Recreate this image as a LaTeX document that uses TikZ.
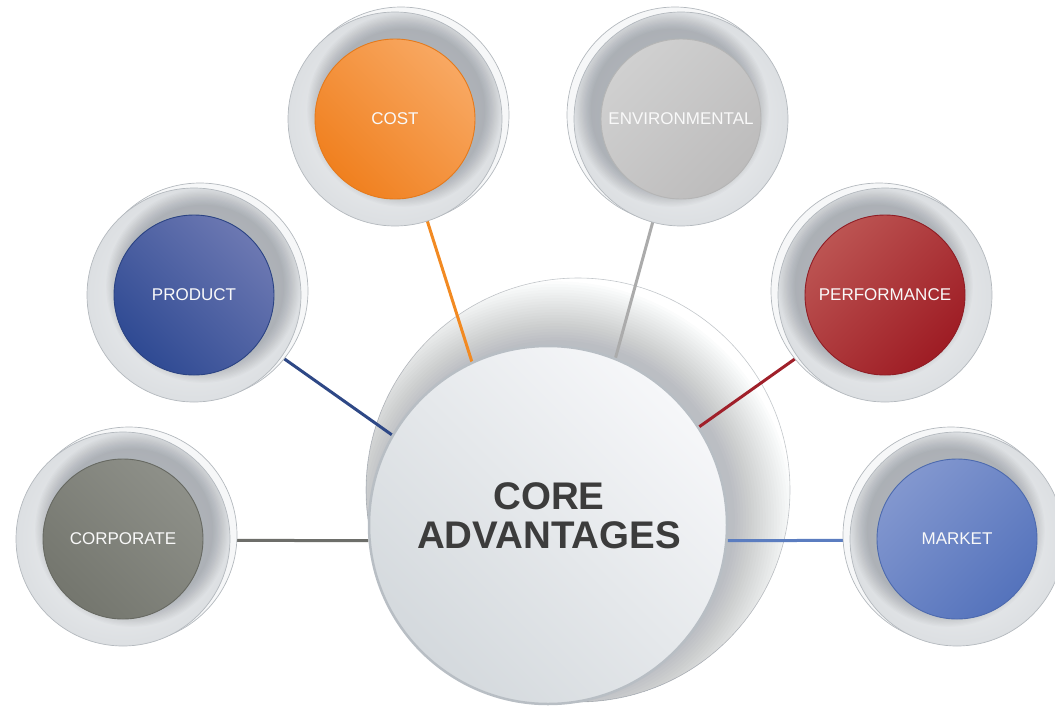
\documentclass[tikz,border=0pt]{standalone}
\usepackage{fontspec}
\setmainfont{Liberation Sans}
\definecolor{ringedge}{HTML}{B4B9BE}
\definecolor{ringout}{HTML}{DCDFE2}
\definecolor{ringin}{HTML}{F6F7F8}
\definecolor{shadowc}{HTML}{3A4350}
\definecolor{coretext}{HTML}{3C3C3C}
\definecolor{corelight}{HTML}{F6F7F9}
\definecolor{coredark}{HTML}{D4D9DD}
\definecolor{corerim}{HTML}{B8BEC4}
\definecolor{costL}{HTML}{F8A862}\definecolor{costD}{HTML}{F0801F}\definecolor{costB}{HTML}{E57A1C}
\definecolor{envL}{HTML}{D0D0D0}\definecolor{envD}{HTML}{BDBCBC}\definecolor{envB}{HTML}{B5B5B5}
\definecolor{prodL}{HTML}{6C78B2}\definecolor{prodD}{HTML}{2F4A93}\definecolor{prodB}{HTML}{2B4383}
\definecolor{perfL}{HTML}{BC5452}\definecolor{perfD}{HTML}{9E1C24}\definecolor{perfB}{HTML}{901D25}
\definecolor{corpL}{HTML}{8E9089}\definecolor{corpD}{HTML}{74766E}\definecolor{corpB}{HTML}{676962}
\definecolor{markL}{HTML}{8297CF}\definecolor{markD}{HTML}{5573BC}\definecolor{markB}{HTML}{4D6AAE}
\definecolor{costLn}{HTML}{F28A22}\definecolor{envLn}{HTML}{ABABAB}\definecolor{prodLn}{HTML}{2E4886}
\definecolor{perfLn}{HTML}{A0202A}\definecolor{corpLn}{HTML}{6D6E6A}\definecolor{markLn}{HTML}{5B7DC0}
\tikzset{
  sattext/.style={circle, minimum size=160pt, inner sep=0pt, text=white!95!gray,
    font=\fontsize{17}{20}\selectfont},
  coretxt/.style={circle, minimum size=360pt, inner sep=0pt, text=coretext, align=center,
    font=\fontsize{38.5}{39}\selectfont\bfseries},
  link/.style={line width=3pt},
  ringback/.style={fill=ringin, draw=ringedge, line width=0.7pt},
  ringbase/.style={inner color=ringin, outer color=ringout, draw=ringedge, line width=0.7pt}
}
% #1 name, #2 x, #3 y, #4 side (+1 left of core, -1 right), #5 light, #6 dark, #7 border, #8 label
\newcommand{\satdisk}[8]{%
  \pgfmathsetmacro{\shang}{-45*#4}%
  \fill[ringback] ({#2+6*#4},{#3-4}) circle (108pt);
  \shade[ringbase] (#2,#3) circle (107pt);
  \begin{scope}
    \clip (#2,#3) circle (106.5pt);
    \foreach \k in {1,...,14}
      \fill[shadowc, opacity=0.024] ({#2+9*#4},{#3-9}) circle ({80pt+1.2pt*\k});
  \end{scope}
  \shade[top color=#5, bottom color=#6, shading angle=\shang, draw=#7, line width=0.9pt]
    (#2,#3) circle (80pt);
  \node[sattext] (#1) at (#2,#3) {#8};
}
\begin{document}
\begin{tikzpicture}[x=1pt,y=-1pt]
\useasboundingbox (0,0) rectangle (1055,710);
\clip (0,0) rectangle (1055,710);
% back shadow of core
\coordinate (corec) at (548,525);
\fill[white, draw=ringedge!80!white, line width=0.6pt] (578,490) circle (212pt);
\begin{scope}
  \clip (578,490) circle (212pt);
  \foreach \k in {1,...,22}
    \fill[shadowc, opacity=0.015] ([shift={(8,-6)}]corec) circle ({176pt+2.8pt*\k});
\end{scope}
% core node (for connectors)
\node[coretxt] (core) at (corec) {};
% connectors
\coordinate (costc) at (395,119);
\coordinate (envc) at (681,119);
\coordinate (prodc) at (194,295);
\coordinate (perfc) at (885,295);
\coordinate (corpc) at (123,540);
\coordinate (markc) at (957,540);
\draw[link, costLn] (costc) -- (core.115);
\draw[link, envLn] (envc) -- (core.68);
\draw[link, prodLn] (prodc) -- (core.150);
\draw[link, perfLn] (perfc) -- (core.33);
\draw[link, corpLn] (corpc) -- (core.185);
\draw[link, markLn] (markc) -- (core.-5);
% front core circle
\shade[top color=corelight, bottom color=coredark, shading angle=-45, draw=corerim, line width=2.5pt]
  (corec) circle (179pt);
\node[coretxt] (coretext) at (549,516) {CORE\\ADVANTAGES};
% satellites
\satdisk{cost}{395}{119}{1}{costL}{costD}{costB}{COST}
\satdisk{env}{681}{119}{-1}{envL}{envD}{envB}{ENVIRONMENTAL}
\satdisk{prod}{194}{295}{1}{prodL}{prodD}{prodB}{PRODUCT}
\satdisk{perf}{885}{295}{-1}{perfL}{perfD}{perfB}{PERFORMANCE}
\satdisk{corp}{123}{539}{1}{corpL}{corpD}{corpB}{CORPORATE}
\satdisk{mark}{957}{539}{-1}{markL}{markD}{markB}{MARKET}
\end{tikzpicture}
\end{document}
